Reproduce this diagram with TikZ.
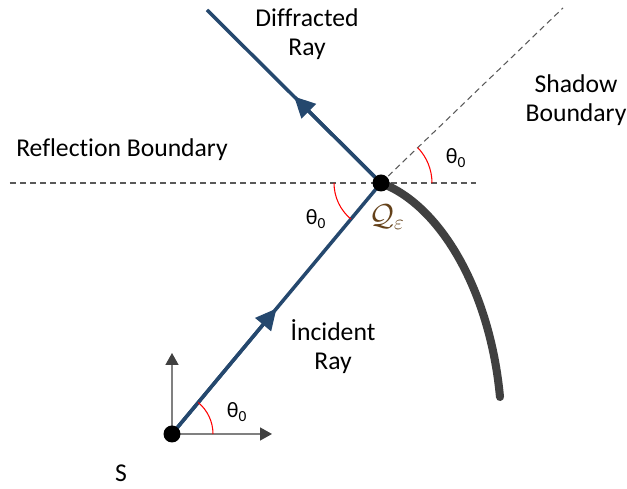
\documentclass[tikz,border=0pt]{standalone}
\usepackage{fontspec}
\setmainfont{Carlito}[Ligatures=CommonOff]
\usetikzlibrary{arrows.meta,calc,angles}

\definecolor{raycol}{RGB}{37,72,110}
\definecolor{wallcol}{RGB}{64,64,64}
\definecolor{axiscol}{RGB}{128,128,128}
\definecolor{qcol}{RGB}{100,65,25}

\tikzset{
  ray/.style={draw=raycol, line width=2pt},
  raytip/.style={-{Triangle[length=0.42cm,width=0.40cm]}},
  bound/.style={draw=black!65, line width=0.6pt, dash pattern=on 3.4pt off 2.3pt},
  axis/.style={draw=axiscol, line width=0.9pt, -{Triangle[length=0.24cm,width=0.26cm,color=wallcol]}},
  ang/.style={draw=red, line width=0.6pt},
  lbl/.style={font=\fontsize{14.6}{16.5}\selectfont, align=center, inner sep=0pt},
  thlbl/.style={font=\fontsize{12.5}{14}\selectfont, inner sep=0pt},
  dot/.style={circle, fill=black, inner sep=0pt, minimum size=0.34cm},
}

\begin{document}
\begin{tikzpicture}[x=0.02cm, y=0.02cm]
  \useasboundingbox (0,0) rectangle (627,489);
  % main points
  \coordinate (S) at (172,55);
  \coordinate (Q) at (381,306);
  \coordinate (D) at (207,479);
  \coordinate (SB) at (563,481);
  \coordinate (RL) at (10,306);
  \coordinate (RR) at (476,306);
  \coordinate (AX) at (272,55);
  \coordinate (AY) at (172,136);
  \coordinate (W) at (500,92);

  % boundaries
  \draw[bound] (RL) -- (RR);
  \draw[bound] (Q) -- (SB);
  % axes at the source
  \draw[axis] (S) -- (AX);
  \draw[axis] (S) -- (AY);
  % curved surface
  \draw[wallcol, line width=4.6pt, line cap=round] (Q) .. controls (440,284) and (490,199) .. (W);
  % rays
  \draw[ray] (S) -- (Q);
  \draw[ray, raytip] (S) -- ($(S)!0.5!(Q)$);
  \draw[ray] (Q) -- (D);
  \draw[ray, raytip] (Q) -- ($(Q)!0.5!(D)$);
  % angles
  \pic[ang, angle radius=0.82cm] {angle=AX--S--Q};
  \pic[ang, angle radius=0.94cm] {angle=RL--Q--S};
  \pic[ang, angle radius=1.02cm] {angle=RR--Q--SB};
  % points
  \node[dot] (Sd) at (S) {};
  \node[dot] (Qd) at (Q) {};
  % labels
  \node[lbl] (diff) at (307,455) {Diffracted\\Ray};
  \node[lbl] (shad) at (576,389) {Shadow\\Boundary};
  \node[lbl] (refl) at (122,339) {Reflection Boundary};
  \node[lbl] (inc) at (333,142) {İncident\\Ray};
  \node[lbl] (src) at (121,16) {S};
  \node[thlbl] (th1) at (237,77) {θ\textsubscript{0}};
  \node[thlbl] (th2) at (316,270) {θ\textsubscript{0}};
  \node[thlbl] (th3) at (456,331) {θ\textsubscript{0}};
  \node[font=\fontsize{18}{20}\selectfont, text=qcol, inner sep=0pt] (qlbl) at (387,272) {$\mathcal{Q}_{\varepsilon}$};
\end{tikzpicture}
\end{document}
